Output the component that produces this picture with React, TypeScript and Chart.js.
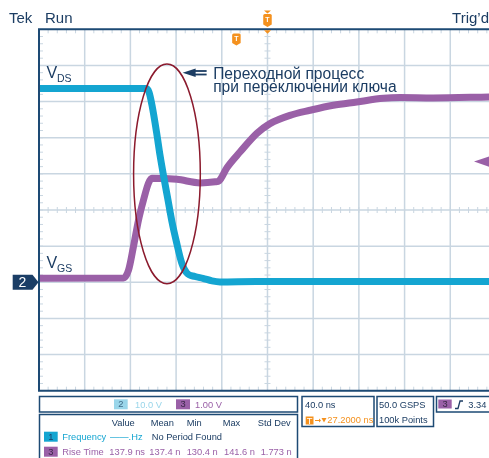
import React, { useEffect, useRef } from "react";
import { Chart, registerables } from "chart.js";

Chart.register(...registerables);

// ---- data (time in ns, 40 ns/div, screen centre = 0) ----
const vdsTime = [-200, -106.3, -103.7, -101.1, -97.0, -94.1, -90.6, -87.1, -83.6, -79.5, -75.1, -70.7, -63.5, -56.5, -48.6, -41.6, -10, 40, 100, 150, 194];
const vdsVolts = [53.6, 53.6, 52.6, 49.0, 41.3, 35.2, 28.8, 22.8, 16.7, 10.9, 5.4, 2.6, 1.6, 1.1, 0.4, 0.1, 0.2, 0.2, 0.2, 0.2, 0.2];

const vgsTime = [-200, -126.0, -121.6, -117.3, -112.9, -108.5, -104.2, -101.2, -79.3, -58.9, -45.8, -42.3, -35.5, -23.9, -9.3, 2.2, 19.7, 37.2, 57.6, 78.1, 101.4, 116.0, 144.9, 194];
const vgsVolts = [0.11, 0.12, 0.34, 0.99, 1.72, 2.28, 2.74, 2.88, 2.85, 2.75, 2.78, 2.81, 3.17, 3.61, 4.12, 4.39, 4.62, 4.76, 4.90, 4.99, 5.09, 5.11, 5.10, 5.13];

const xMajorTicks = [-160, -120, -80, -40, 0, 40, 80, 120, 160];
const yMajorTicks = [-2, -1, 0, 1, 2, 3, 4, 5, 6];

const triggerTime = -27.2;
const triggerLevel = 3.34;

const ellipseCenter = { t: -88, v: 3.0 };
const ellipseRadius = { t: 29.2, v: 3.04 };

const annotationLines = ["Переходной процесс", "при переключении ключа"];
const measHeaders = ["Value", "Mean", "Min", "Max", "Std Dev"];
const riseTimeRow = ["137.9 ns", "137.4 n", "130.4 n", "141.6 n", "1.773 n"];

// ---- styles ----
const GRID = "#c9d6e1";
const BORDER = "#1d4a74";
const TEXT_DARK = "#1c3d63";
const CYAN = "#14a5d1";
const CYAN_LIGHT = "#9ad6ea";
const PURPLE = "#9a60a7";
const ORANGE = "#f4911e";
const ELLIPSE = "#8b1a2d";
const FONT = '"Liberation Sans", Arial, sans-serif';
const SMALL = `9.3px ${FONT}`;

function tMarker(ctx: CanvasRenderingContext2D, cx: number, top: number, h: number) {
  const w = 8.5;
  ctx.fillStyle = ORANGE;
  ctx.beginPath();
  ctx.moveTo(cx - w / 2, top + 1.5);
  ctx.quadraticCurveTo(cx - w / 2, top, cx - w / 2 + 1.5, top);
  ctx.lineTo(cx + w / 2 - 1.5, top);
  ctx.quadraticCurveTo(cx + w / 2, top, cx + w / 2, top + 1.5);
  ctx.lineTo(cx + w / 2, top + h);
  ctx.lineTo(cx, top + h + 2.5);
  ctx.lineTo(cx - w / 2, top + h);
  ctx.closePath();
  ctx.fill();
  ctx.fillStyle = "#ffffff";
  ctx.font = `bold 7px ${FONT}`;
  ctx.textAlign = "center";
  ctx.textBaseline = "middle";
  ctx.fillText("T", cx, top + h / 2 + 0.5);
}

const scopePlugin = {
  id: "scope",
  beforeDatasetsDraw(chart: any) {
    const { ctx, chartArea: a, scales } = chart;
    const x = scales.x;
    const y = scales.y3;
    ctx.save();
    ctx.strokeStyle = GRID;
    ctx.lineWidth = 1.5;
    for (const t of xMajorTicks) {
      const px = x.getPixelForValue(t);
      ctx.beginPath();
      ctx.moveTo(px, a.top);
      ctx.lineTo(px, a.bottom);
      ctx.stroke();
    }
    for (const v of yMajorTicks) {
      const py = y.getPixelForValue(v);
      ctx.beginPath();
      ctx.moveTo(a.left, py);
      ctx.lineTo(a.right, py);
      ctx.stroke();
    }
    // minor ticks
    ctx.lineWidth = 1;
    const cx = x.getPixelForValue(0);
    const cy = y.getPixelForValue(2);
    for (let t = -200; t <= 194; t += 8) {
      const px = x.getPixelForValue(t);
      ctx.beginPath();
      ctx.moveTo(px, a.top);
      ctx.lineTo(px, a.top + 4);
      ctx.moveTo(px, a.bottom);
      ctx.lineTo(px, a.bottom - 4);
      ctx.moveTo(px, cy - 3);
      ctx.lineTo(px, cy + 3);
      ctx.stroke();
    }
    for (let i = 0; i <= 50; i++) {
      const py = y.getPixelForValue(-3 + i * 0.2);
      ctx.beginPath();
      ctx.moveTo(a.left, py);
      ctx.lineTo(a.left + 4, py);
      ctx.moveTo(cx - 3, py);
      ctx.lineTo(cx + 3, py);
      ctx.stroke();
    }
    ctx.restore();
  },
  afterDatasetsDraw(chart: any) {
    const { ctx, chartArea: a, scales } = chart;
    const x = scales.x;
    const y = scales.y3;
    ctx.save();
    // border
    ctx.strokeStyle = BORDER;
    ctx.lineWidth = 2;
    ctx.beginPath();
    ctx.moveTo(a.right + 2, a.top);
    ctx.lineTo(a.left, a.top);
    ctx.lineTo(a.left, a.bottom);
    ctx.lineTo(a.right + 2, a.bottom);
    ctx.stroke();

    // ellipse
    const ecx = x.getPixelForValue(ellipseCenter.t);
    const ecy = y.getPixelForValue(ellipseCenter.v);
    const erx = x.getPixelForValue(ellipseCenter.t + ellipseRadius.t) - ecx;
    const ery = ecy - y.getPixelForValue(ellipseCenter.v + ellipseRadius.v);
    ctx.strokeStyle = ELLIPSE;
    ctx.lineWidth = 1.5;
    ctx.beginPath();
    ctx.ellipse(ecx, ecy, erx, ery, 0, 0, Math.PI * 2);
    ctx.stroke();

    // annotation arrow + text
    const tipX = ecx + erx * 0.47;
    const arY = 72.7;
    ctx.fillStyle = TEXT_DARK;
    ctx.beginPath();
    ctx.moveTo(tipX, arY);
    ctx.lineTo(tipX + 13, arY - 4.3);
    ctx.lineTo(tipX + 13, arY + 4.3);
    ctx.closePath();
    ctx.fill();
    ctx.fillRect(tipX + 12, arY - 2.6, 12, 1.8);
    ctx.fillRect(tipX + 12, arY + 0.9, 12, 1.8);
    ctx.font = `15.6px ${FONT}`;
    ctx.textAlign = "left";
    ctx.textBaseline = "alphabetic";
    ctx.fillText(annotationLines[0], tipX + 30.5, 79);
    ctx.fillText(annotationLines[1], tipX + 30.5, 91.7);

    // channel labels
    const lx = a.left + 7.5;
    ctx.font = `16px ${FONT}`;
    ctx.fillText("V", lx, 78);
    ctx.fillText("V", lx, 268);
    ctx.font = `10.5px ${FONT}`;
    ctx.fillText("DS", lx + 10.5, 81.7);
    ctx.fillText("GS", lx + 10.5, 271.7);

    // ground marker for channel 2
    const gy = y.getPixelForValue(0);
    ctx.fillStyle = "#1b3e66";
    ctx.beginPath();
    ctx.moveTo(12.7, gy - 7.5);
    ctx.lineTo(32.5, gy - 7.5);
    ctx.lineTo(38.5, gy);
    ctx.lineTo(32.5, gy + 7.5);
    ctx.lineTo(12.7, gy + 7.5);
    ctx.closePath();
    ctx.fill();
    ctx.fillStyle = "#ffffff";
    ctx.font = `14px ${FONT}`;
    ctx.textAlign = "center";
    ctx.textBaseline = "middle";
    ctx.fillText("2", 22.5, gy + 0.5);

    // trigger level arrow (ch3)
    const ty = y.getPixelForValue(triggerLevel);
    ctx.fillStyle = PURPLE;
    ctx.beginPath();
    ctx.moveTo(474, ty);
    ctx.lineTo(490, ty - 5.5);
    ctx.lineTo(490, ty + 5.5);
    ctx.closePath();
    ctx.fill();

    // trigger position markers
    const centreX = x.getPixelForValue(0);
    ctx.fillStyle = ORANGE;
    ctx.beginPath();
    ctx.moveTo(centreX - 3.5, 10.5);
    ctx.lineTo(centreX + 3.5, 10.5);
    ctx.lineTo(centreX, 13.5);
    ctx.closePath();
    ctx.fill();
    tMarker(ctx, centreX, 14, 10.5);
    ctx.fillStyle = ORANGE;
    ctx.beginPath();
    ctx.moveTo(centreX - 3.5, a.top + 1);
    ctx.lineTo(centreX + 3.5, a.top + 1);
    ctx.lineTo(centreX, a.top + 4.5);
    ctx.closePath();
    ctx.fill();
    tMarker(ctx, x.getPixelForValue(triggerTime), 33.5, 9.5);

    // header texts
    ctx.fillStyle = TEXT_DARK;
    ctx.font = `15px ${FONT}`;
    ctx.textAlign = "left";
    ctx.textBaseline = "alphabetic";
    ctx.fillText("Tek", 9, 22.7);
    ctx.fillText("Run", 45, 22.7);
    ctx.textAlign = "right";
    ctx.fillText("Trig’d", 489, 22.7);

    // bottom panels
    ctx.strokeStyle = BORDER;
    ctx.lineWidth = 1.5;
    ctx.strokeRect(39.5, 396.5, 258, 15.5);
    ctx.strokeRect(39.5, 414.5, 258, 50);
    ctx.strokeRect(302, 396.5, 72, 30);
    ctx.strokeRect(377, 396.5, 56.5, 30);
    ctx.strokeRect(436.5, 396.5, 60, 15.5);

    const box = (bx: number, by: number, w: number, h: number, fill: string, label: string, color: string) => {
      ctx.fillStyle = fill;
      ctx.fillRect(bx, by, w, h);
      ctx.fillStyle = color;
      ctx.font = SMALL;
      ctx.textAlign = "center";
      ctx.textBaseline = "middle";
      ctx.fillText(label, bx + w / 2, by + h / 2 + 0.5);
      ctx.textAlign = "left";
      ctx.textBaseline = "alphabetic";
    };
    box(114, 399.3, 13.7, 10, CYAN_LIGHT, "2", "#3f6a86");
    box(176, 399.3, 14, 10, PURPLE, "3", "#3b2848");
    ctx.font = SMALL;
    ctx.fillStyle = CYAN_LIGHT;
    ctx.fillText("10.0 V", 135, 408);
    ctx.fillStyle = PURPLE;
    ctx.fillText("1.00 V", 195, 408);

    // measurement table
    const colX = [111.7, 150.7, 186.7, 222.7, 257.7];
    const rowX = [109.3, 149.3, 186.7, 224, 260.7];
    ctx.fillStyle = TEXT_DARK;
    measHeaders.forEach((h, i) => ctx.fillText(h, colX[i], 425.7));
    box(44, 431.7, 13.7, 10, CYAN, "1", "#1b3e66");
    box(44, 446.7, 13.7, 10, PURPLE, "3", "#3b2848");
    ctx.font = SMALL;
    ctx.fillStyle = CYAN;
    ctx.fillText("Frequency", 62.3, 440.3);
    ctx.fillText("——.Hz", 110, 440.3);
    ctx.fillStyle = TEXT_DARK;
    ctx.fillText("No Period Found", 151.7, 440.3);
    ctx.fillStyle = PURPLE;
    ctx.fillText("Rise Time", 62.3, 455.3);
    riseTimeRow.forEach((v, i) => ctx.fillText(v, rowX[i], 455.3));

    // timebase panel
    ctx.fillStyle = TEXT_DARK;
    ctx.fillText("40.0 ns", 305, 408.3);
    ctx.fillText("50.0 GSPS", 379, 408.3);
    ctx.fillText("100k Points", 379, 423.3);
    box(305.7, 416.5, 7.8, 8, ORANGE, "T", "#ffffff");
    ctx.strokeStyle = ORANGE;
    ctx.fillStyle = ORANGE;
    ctx.lineWidth = 1;
    ctx.beginPath();
    ctx.moveTo(315, 420.5);
    ctx.lineTo(319, 420.5);
    ctx.stroke();
    ctx.beginPath();
    ctx.moveTo(319, 418.5);
    ctx.lineTo(321, 420.5);
    ctx.lineTo(319, 422.5);
    ctx.closePath();
    ctx.fill();
    ctx.beginPath();
    ctx.moveTo(321.5, 418);
    ctx.lineTo(326.5, 418);
    ctx.lineTo(324, 422.5);
    ctx.closePath();
    ctx.fill();
    ctx.font = SMALL;
    ctx.fillText("27.2000 ns", 327.3, 423.3);

    // trigger panel
    box(438.3, 399.5, 13.4, 9, PURPLE, "3", "#3b2848");
    ctx.strokeStyle = TEXT_DARK;
    ctx.lineWidth = 1.3;
    ctx.beginPath();
    ctx.moveTo(455, 408.5);
    ctx.lineTo(458, 408.5);
    ctx.lineTo(460, 401);
    ctx.lineTo(463, 401);
    ctx.stroke();
    ctx.fillStyle = TEXT_DARK;
    ctx.font = SMALL;
    ctx.fillText("3.34", 468.3, 408.3);

    ctx.restore();
  },
};

export default function App() {
  const ref = useRef<HTMLCanvasElement | null>(null);
  useEffect(() => {
    if (!ref.current) return;
    const chart = new Chart(ref.current, {
      type: "line",
      data: {
        datasets: [
          {
            label: "VDS",
            data: vdsTime.map((t, i) => ({ x: t, y: vdsVolts[i] })),
            yAxisID: "y2",
            borderColor: CYAN,
            borderWidth: 7,
            pointRadius: 0,
            cubicInterpolationMode: "monotone",
          },
          {
            label: "VGS",
            data: vgsTime.map((t, i) => ({ x: t, y: vgsVolts[i] })),
            yAxisID: "y3",
            borderColor: PURPLE,
            borderWidth: 7,
            pointRadius: 0,
            cubicInterpolationMode: "monotone",
          },
        ],
      },
      options: {
        responsive: false,
        devicePixelRatio: 1,
        animation: false,
        layout: { padding: { left: 39, top: 29.3, right: 0, bottom: 67.3 } },
        scales: {
          x: { type: "linear", min: -200, max: 193.9, display: false },
          y2: { type: "linear", min: -30, max: 70, display: false },
          y3: { type: "linear", min: -3, max: 7, display: false },
        },
        plugins: { legend: { display: false }, tooltip: { enabled: false } },
      },
      plugins: [scopePlugin],
    } as any);
    return () => chart.destroy();
  }, []);
  return (
    <div style={{ position: "absolute", left: 0, top: 0, width: 489, height: 458, background: "#fff" }}>
      <canvas ref={ref} width={489} height={458} style={{ display: "block" }} />
    </div>
  );
}
